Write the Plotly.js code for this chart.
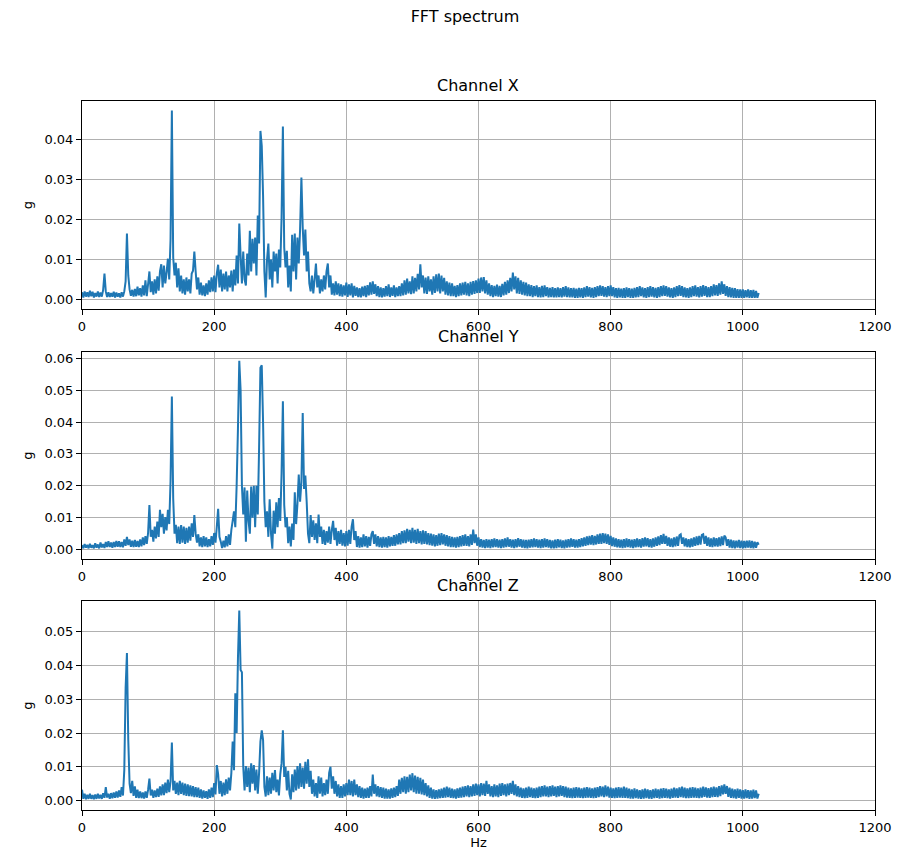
<!DOCTYPE html>
<html><head><meta charset="utf-8">
<script src="https://cdn.plot.ly/plotly-3.0.1.min.js"></script>
<style>html,body{margin:0;padding:0;background:#fff}#chart{width:905px;height:851px}</style>
</head><body><div id="chart"></div>
<script>
// FFT bins: 0 .. 1024 Hz, 2 Hz apart (513 bins)
const binCount = 513, binStepHz = 2;
const freqHz = [];
for (let i = 0; i < binCount; i++) freqHz.push(i * binStepHz);

const channelNames = ['Channel X', 'Channel Y', 'Channel Z'];
const xTicks = [0, 200, 400, 600, 800, 1000, 1200];

const channelX = [
.0018,.0005,.0020,.0007,.0018,.0006,.0022,.0008,.0019,.0005,.0016,.0007,.0020,.0006,.0017,.0007,.0024,.0065,.0020,.0006,
.0018,.0006,.0016,.0007,.0019,.0005,.0017,.0007,.0015,.0005,.0018,.0007,.0020,.0045,.0165,.0060,.0025,.0009,.0024,.0007,
.0026,.0008,.0032,.0010,.0028,.0007,.0035,.0010,.0048,.0008,.0038,.0070,.0018,.0045,.0012,.0050,.0015,.0058,.0022,.0070,
.0088,.0030,.0085,.0040,.0068,.0102,.0050,.0150,.0473,.0105,.0060,.0092,.0030,.0078,.0020,.0060,.0015,.0050,.0012,.0055,
.0020,.0050,.0015,.0065,.0072,.0120,.0070,.0025,.0055,.0012,.0042,.0010,.0035,.0008,.0040,.0012,.0048,.0018,.0055,.0020,
.0060,.0018,.0065,.0087,.0030,.0075,.0020,.0065,.0025,.0070,.0020,.0060,.0030,.0072,.0020,.0075,.0035,.0110,.0040,.0190,
.0110,.0040,.0120,.0050,.0035,.0115,.0060,.0172,.0070,.0152,.0090,.0155,.0060,.0210,.0140,.0422,.0385,.0260,.0070,.0005,
.0100,.0140,.0050,.0100,.0030,.0120,.0070,.0115,.0040,.0125,.0080,.0205,.0433,.0130,.0080,.0122,.0030,.0085,.0020,.0162,
.0070,.0165,.0050,.0155,.0090,.0175,.0305,.0180,.0110,.0175,.0070,.0120,.0040,.0020,.0060,.0015,.0050,.0090,.0030,.0060,
.0015,.0050,.0020,.0060,.0025,.0070,.0090,.0030,.0060,.0012,.0040,.0010,.0045,.0012,.0040,.0008,.0038,.0007,.0035,.0010,
.0042,.0006,.0038,.0010,.0040,.0005,.0034,.0009,.0030,.0006,.0028,.0005,.0032,.0008,.0034,.0006,.0036,.0010,.0043,.0012,
.0045,.0014,.0038,.0008,.0033,.0006,.0030,.0005,.0028,.0007,.0033,.0008,.0038,.0006,.0030,.0009,.0035,.0006,.0030,.0008,
.0033,.0008,.0040,.0010,.0048,.0012,.0052,.0015,.0045,.0013,.0058,.0015,.0054,.0020,.0064,.0025,.0088,.0030,.0060,.0015,
.0055,.0014,.0058,.0020,.0050,.0012,.0058,.0016,.0063,.0020,.0065,.0015,.0060,.0020,.0054,.0012,.0045,.0010,.0042,.0008,
.0040,.0008,.0034,.0006,.0036,.0008,.0040,.0010,.0042,.0012,.0044,.0010,.0040,.0008,.0044,.0012,.0046,.0014,.0048,.0016,
.0052,.0016,.0055,.0020,.0056,.0015,.0048,.0012,.0040,.0008,.0036,.0006,.0034,.0008,.0037,.0007,.0034,.0006,.0039,.0010,
.0044,.0012,.0048,.0016,.0054,.0020,.0067,.0025,.0058,.0015,.0054,.0014,.0048,.0012,.0044,.0010,.0042,.0008,.0038,.0008,
.0036,.0006,.0033,.0008,.0035,.0006,.0031,.0005,.0034,.0006,.0035,.0008,.0031,.0005,.0029,.0006,.0031,.0005,.0028,.0005,
.0030,.0006,.0028,.0005,.0031,.0007,.0033,.0006,.0030,.0005,.0028,.0005,.0029,.0004,.0027,.0004,.0029,.0005,.0028,.0004,
.0030,.0006,.0033,.0007,.0031,.0005,.0029,.0004,.0031,.0006,.0033,.0008,.0035,.0009,.0033,.0007,.0031,.0006,.0033,.0008,
.0035,.0008,.0031,.0005,.0028,.0004,.0029,.0005,.0027,.0004,.0028,.0004,.0030,.0006,.0028,.0004,.0027,.0004,.0029,.0005,
.0031,.0006,.0033,.0008,.0030,.0005,.0028,.0004,.0031,.0006,.0033,.0007,.0031,.0005,.0029,.0004,.0031,.0006,.0033,.0008,
.0035,.0009,.0033,.0007,.0030,.0005,.0028,.0004,.0030,.0006,.0033,.0008,.0036,.0009,.0033,.0006,.0030,.0005,.0028,.0004,
.0030,.0006,.0033,.0008,.0035,.0007,.0031,.0005,.0033,.0007,.0036,.0009,.0033,.0006,.0031,.0006,.0033,.0008,.0038,.0010,
.0036,.0009,.0040,.0012,.0045,.0014,.0038,.0009,.0033,.0006,.0031,.0005,.0029,.0004,.0028,.0004,.0026,.0004,.0025,.0004,
.0025,.0004,.0023,.0005,.0025,.0004,.0023,.0004,.0024,.0004,.0021,.0004,.0016
];

const channelY = [
.0014,.0004,.0017,.0006,.0015,.0004,.0018,.0006,.0014,.0004,.0020,.0006,.0016,.0004,.0022,.0007,.0017,.0005,.0024,.0008,
.0026,.0008,.0022,.0006,.0024,.0008,.0027,.0009,.0026,.0008,.0024,.0007,.0032,.0012,.0040,.0014,.0032,.0009,.0028,.0008,
.0030,.0009,.0027,.0008,.0032,.0010,.0038,.0014,.0042,.0018,.0052,.0140,.0040,.0062,.0025,.0072,.0035,.0088,.0040,.0125,
.0070,.0112,.0050,.0102,.0060,.0125,.0080,.0215,.0480,.0160,.0050,.0078,.0020,.0072,.0018,.0077,.0022,.0072,.0018,.0068,
.0022,.0072,.0028,.0082,.0040,.0108,.0050,.0022,.0048,.0010,.0038,.0008,.0042,.0010,.0038,.0008,.0033,.0010,.0042,.0015,
.0052,.0022,.0072,.0128,.0040,.0025,.0005,.0028,.0007,.0042,.0010,.0048,.0015,.0062,.0090,.0120,.0070,.0200,.0380,.0592,
.0500,.0200,.0110,.0195,.0025,.0185,.0090,.0050,.0198,.0100,.0200,.0070,.0200,.0110,.0320,.0570,.0578,.0400,.0150,.0070,
.0120,.0040,.0158,.0050,.0003,.0122,.0050,.0148,.0070,.0162,.0090,.0240,.0465,.0140,.0070,.0102,.0020,.0072,.0010,.0082,
.0030,.0180,.0080,.0142,.0235,.0150,.0212,.0428,.0190,.0232,.0150,.0050,.0020,.0108,.0040,.0092,.0030,.0082,.0020,.0110,
.0040,.0072,.0018,.0062,.0015,.0058,.0022,.0072,.0018,.0062,.0090,.0030,.0068,.0012,.0058,.0018,.0062,.0012,.0052,.0010,
.0058,.0012,.0062,.0018,.0072,.0095,.0030,.0058,.0008,.0042,.0006,.0038,.0008,.0048,.0010,.0042,.0006,.0040,.0012,.0048,
.0058,.0018,.0048,.0010,.0042,.0008,.0038,.0006,.0040,.0008,.0038,.0006,.0042,.0010,.0040,.0012,.0045,.0012,.0048,.0016,
.0052,.0016,.0058,.0020,.0060,.0020,.0065,.0025,.0062,.0020,.0068,.0022,.0062,.0018,.0065,.0020,.0058,.0016,.0060,.0018,
.0058,.0016,.0052,.0014,.0050,.0012,.0048,.0010,.0045,.0012,.0050,.0014,.0052,.0016,.0048,.0012,.0045,.0010,.0042,.0008,
.0040,.0008,.0038,.0006,.0040,.0008,.0042,.0010,.0045,.0012,.0048,.0012,.0042,.0010,.0048,.0015,.0063,.0020,.0048,.0012,
.0038,.0008,.0033,.0006,.0030,.0005,.0033,.0006,.0031,.0005,.0033,.0007,.0035,.0008,.0033,.0006,.0031,.0005,.0033,.0006,
.0035,.0008,.0038,.0009,.0033,.0006,.0031,.0005,.0033,.0007,.0036,.0009,.0033,.0006,.0031,.0005,.0030,.0004,.0031,.0006,
.0033,.0007,.0035,.0008,.0033,.0006,.0031,.0005,.0033,.0006,.0035,.0008,.0033,.0006,.0030,.0004,.0029,.0004,.0031,.0005,
.0033,.0007,.0031,.0005,.0029,.0004,.0031,.0006,.0033,.0007,.0035,.0009,.0033,.0006,.0031,.0006,.0033,.0008,.0036,.0010,
.0038,.0012,.0041,.0014,.0043,.0016,.0045,.0014,.0043,.0016,.0048,.0018,.0050,.0018,.0052,.0020,.0050,.0018,.0048,.0015,
.0043,.0011,.0038,.0009,.0035,.0007,.0033,.0006,.0031,.0005,.0033,.0006,.0035,.0008,.0033,.0006,.0031,.0005,.0033,.0007,
.0035,.0008,.0033,.0006,.0036,.0009,.0038,.0010,.0036,.0008,.0033,.0006,.0035,.0009,.0038,.0012,.0041,.0014,.0045,.0018,
.0049,.0018,.0043,.0012,.0038,.0009,.0035,.0008,.0038,.0010,.0041,.0012,.0045,.0048,.0018,.0038,.0010,.0035,.0008,.0033,
.0007,.0035,.0009,.0038,.0012,.0041,.0014,.0043,.0016,.0046,.0048,.0018,.0043,.0012,.0038,.0009,.0035,.0008,.0038,.0010,
.0036,.0009,.0038,.0011,.0041,.0014,.0044,.0038,.0012,.0033,.0006,.0031,.0005,.0029,.0004,.0028,.0006,.0030,.0005,.0028,
.0004,.0027,.0005,.0028,.0006,.0029,.0005,.0027,.0004,.0025,.0006,.0023,.0015
];

const channelZ = [
.0032,.0005,.0020,.0004,.0017,.0005,.0020,.0005,.0016,.0004,.0018,.0005,.0020,.0006,.0017,.0005,.0022,.0008,.0040,.0009,
.0020,.0005,.0022,.0007,.0024,.0008,.0027,.0009,.0030,.0011,.0040,.0015,.0090,.0333,.0437,.0180,.0050,.0022,.0058,.0014,
.0042,.0008,.0032,.0007,.0027,.0007,.0024,.0006,.0027,.0008,.0032,.0065,.0015,.0032,.0008,.0030,.0010,.0035,.0011,.0042,
.0015,.0048,.0016,.0053,.0022,.0062,.0025,.0057,.0172,.0030,.0058,.0020,.0053,.0016,.0058,.0020,.0053,.0016,.0050,.0014,
.0048,.0013,.0045,.0012,.0043,.0010,.0040,.0010,.0038,.0008,.0033,.0006,.0030,.0008,.0028,.0005,.0033,.0008,.0038,.0010,
.0052,.0018,.0105,.0078,.0020,.0058,.0012,.0053,.0016,.0063,.0020,.0068,.0030,.0082,.0175,.0090,.0318,.0200,.0422,.0563,
.0387,.0380,.0100,.0030,.0102,.0040,.0098,.0025,.0110,.0050,.0105,.0030,.0092,.0020,.0082,.0175,.0208,.0180,.0040,.0012,
.0072,.0016,.0068,.0020,.0082,.0030,.0090,.0025,.0062,.0015,.0078,.0110,.0208,.0070,.0100,.0030,.0088,.0020,.0003,.0078,
.0025,.0092,.0030,.0102,.0035,.0110,.0040,.0098,.0035,.0115,.0050,.0122,.0040,.0088,.0020,.0062,.0012,.0052,.0008,.0072,
.0020,.0068,.0012,.0052,.0016,.0062,.0020,.0082,.0100,.0035,.0072,.0020,.0058,.0012,.0048,.0008,.0043,.0008,.0048,.0012,
.0052,.0016,.0062,.0016,.0058,.0012,.0062,.0016,.0048,.0010,.0043,.0008,.0038,.0006,.0035,.0008,.0038,.0008,.0043,.0012,
.0077,.0020,.0048,.0012,.0043,.0010,.0040,.0008,.0038,.0006,.0035,.0006,.0033,.0006,.0036,.0008,.0038,.0010,.0043,.0014,
.0062,.0020,.0067,.0025,.0072,.0020,.0070,.0025,.0077,.0030,.0081,.0025,.0074,.0020,.0070,.0020,.0067,.0018,.0062,.0016,
.0052,.0012,.0045,.0008,.0038,.0006,.0033,.0005,.0031,.0006,.0033,.0007,.0035,.0008,.0038,.0009,.0041,.0010,.0038,.0008,
.0035,.0007,.0033,.0006,.0036,.0008,.0038,.0009,.0041,.0010,.0043,.0012,.0045,.0010,.0043,.0012,.0048,.0014,.0050,.0016,
.0048,.0012,.0052,.0016,.0050,.0014,.0058,.0020,.0048,.0012,.0043,.0010,.0048,.0012,.0045,.0010,.0050,.0014,.0052,.0016,
.0048,.0012,.0050,.0016,.0052,.0020,.0058,.0016,.0048,.0012,.0043,.0010,.0038,.0008,.0036,.0007,.0038,.0008,.0041,.0010,
.0038,.0008,.0036,.0007,.0038,.0008,.0041,.0010,.0043,.0012,.0045,.0012,.0041,.0010,.0043,.0012,.0045,.0014,.0041,.0010,
.0043,.0012,.0045,.0014,.0043,.0010,.0041,.0009,.0038,.0008,.0036,.0007,.0038,.0008,.0040,.0009,.0038,.0008,.0036,.0007,
.0038,.0008,.0040,.0009,.0038,.0008,.0036,.0007,.0038,.0008,.0040,.0010,.0043,.0012,.0041,.0010,.0045,.0012,.0041,.0009,
.0038,.0008,.0036,.0007,.0038,.0008,.0040,.0009,.0038,.0008,.0041,.0008,.0038,.0007,.0035,.0006,.0033,.0006,.0036,.0007,
.0033,.0006,.0031,.0005,.0033,.0006,.0035,.0007,.0033,.0006,.0031,.0005,.0033,.0007,.0035,.0008,.0033,.0006,.0035,.0007,
.0037,.0008,.0035,.0007,.0033,.0006,.0035,.0008,.0038,.0009,.0036,.0008,.0039,.0010,.0041,.0009,.0038,.0007,.0036,.0007,
.0038,.0008,.0040,.0009,.0038,.0008,.0036,.0007,.0038,.0009,.0041,.0011,.0039,.0009,.0037,.0008,.0039,.0010,.0041,.0011,
.0039,.0010,.0043,.0013,.0045,.0018,.0048,.0020,.0043,.0011,.0038,.0008,.0035,.0007,.0033,.0006,.0035,.0008,.0033,.0006,
.0031,.0006,.0033,.0007,.0031,.0005,.0030,.0006,.0032,.0007,.0030,.0006,.0020
];

const channels = [channelX, channelY, channelZ];
const yTopTick = [0.04, 0.06, 0.05];

const W = 905, H = 851;
const px = v => v / W;
const py = v => 1 - v / H;
const xDom = [px(82), px(875)];
const panels = [[101, 309], [352, 559], [601, 810]];
const yRanges = [[-0.0024, 0.0497], [-0.00295, 0.06195], [-0.0028, 0.0591]];

const font = {family: 'DejaVu Sans, sans-serif', color: '#000'};
const traces = channels.map((vals, i) => ({
  type: 'scatter', mode: 'lines',
  x: freqHz, y: vals,
  xaxis: i === 0 ? 'x' : 'x' + (i + 1),
  yaxis: i === 0 ? 'y' : 'y' + (i + 1),
  line: {color: '#1f77b4', width: 2, simplify: false},
  hoverinfo: 'skip', showlegend: false
}));

const layout = {
  width: W, height: H,
  margin: {l: 0, r: 0, t: 0, b: 0},
  paper_bgcolor: '#fff', plot_bgcolor: '#fff',
  showlegend: false, hovermode: false,
  font: Object.assign({size: 13}, font),
  title: {text: 'FFT spectrum', font: Object.assign({size: 16}, font),
          x: 465 / W, xanchor: 'center', xref: 'paper',
          y: 1 - 16 / H, yanchor: 'middle', yref: 'container'},
  annotations: []
};

channels.forEach((vals, i) => {
  const xa = i === 0 ? 'xaxis' : 'xaxis' + (i + 1);
  const ya = i === 0 ? 'yaxis' : 'yaxis' + (i + 1);
  const yid = i === 0 ? 'y' : 'y' + (i + 1);
  const xid = i === 0 ? 'x' : 'x' + (i + 1);
  const yticks = [];
  for (let t = 0; t <= Math.round(yTopTick[i] * 100); t++) yticks.push(t / 100);
  layout[xa] = {
    domain: xDom, anchor: yid, range: [0, 1200],
    tickvals: xTicks, ticktext: xTicks.map(String),
    showgrid: true, gridcolor: '#b0b0b0', gridwidth: 1, zeroline: false,
    showline: true, mirror: true, linecolor: '#000', linewidth: 1,
    ticks: 'outside', ticklen: 5, tickwidth: 1, tickcolor: '#000',
    tickfont: Object.assign({size: 13}, font), automargin: false
  };
  if (i === 2) layout[xa].title = {text: 'Hz', font: Object.assign({size: 13}, font), standoff: 4};
  layout[ya] = {
    domain: [py(panels[i][1]), py(panels[i][0])], anchor: xid, range: yRanges[i],
    tickvals: yticks, ticktext: yticks.map(v => v.toFixed(2)),
    showgrid: true, gridcolor: '#b0b0b0', gridwidth: 1, zeroline: false,
    showline: true, mirror: true, linecolor: '#000', linewidth: 1,
    ticks: 'outside', ticklen: 5, tickwidth: 1, tickcolor: '#000',
    tickfont: Object.assign({size: 13}, font), automargin: false,
    title: {text: 'g', font: Object.assign({size: 13}, font), standoff: 8}
  };
  layout.annotations.push({
    text: channelNames[i], showarrow: false,
    xref: 'paper', yref: 'paper', x: (xDom[0] + xDom[1]) / 2, y: py(panels[i][0]),
    xanchor: 'center', yanchor: 'bottom', yshift: 4,
    font: Object.assign({size: 16}, font)
  });
});

Plotly.newPlot('chart', traces, layout, {displayModeBar: false, staticPlot: true});
</script>
</body></html>
